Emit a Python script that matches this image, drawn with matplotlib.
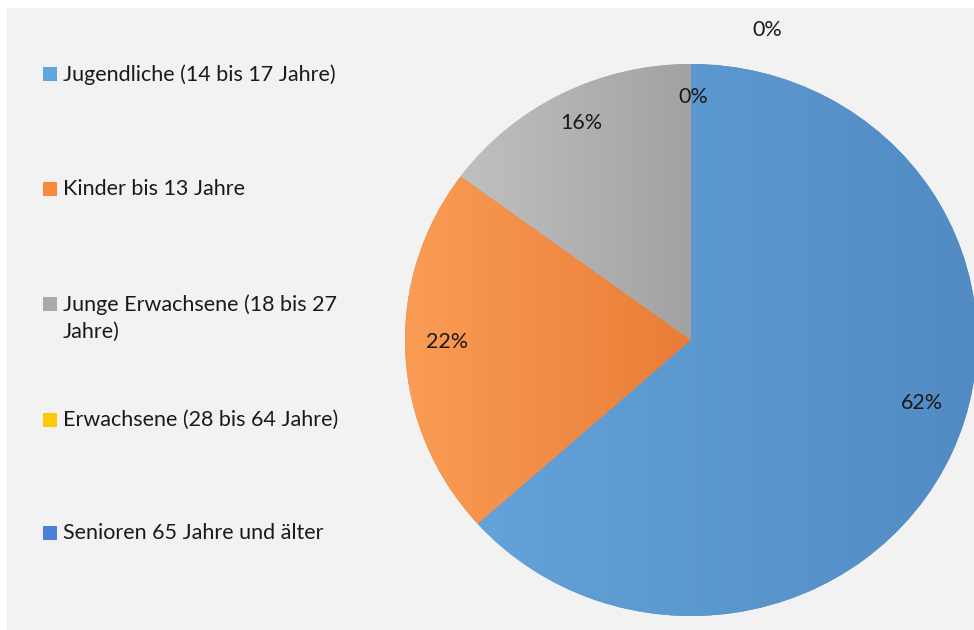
import matplotlib.pyplot as plt
import numpy as np
from matplotlib.colors import LinearSegmentedColormap
from matplotlib.patches import Rectangle

plt.rcParams['font.family'] = ['Lato', 'DejaVu Sans']

# data
groups = ['Jugendliche (14 bis 17 Jahre)', 'Kinder bis 13 Jahre',
          'Junge Erwachsene (18 bis 27\nJahre)', 'Erwachsene (28 bis 64 Jahre)',
          'Senioren 65 Jahre und älter']
# slice sizes as drawn in the original (its labels are rounded differently)
shares = [63.4, 21.7, 14.9, 0, 0]
pct_labels = ['62%', '22%', '16%', '0%', '0%']

# slice gradients (light -> dark, left to right), legend swatch colours
grad_colors = [('#64a2da', '#528bc3'), ('#fa9c55', '#e97d37'),
               ('#c0c0c0', '#a2a2a2'), ('#ffc000', '#ffc000'), ('#4472c4', '#4472c4')]
swatch_colors = ['#60a7e2', '#f98a3d', '#a9a9a9', '#ffc905', '#4b7fd8']
# where each percentage label sits (in pie radius units)
label_pos = [(0.808, -0.228), (-0.854, -0.007), (-0.383, 0.786), (0.007, 0.880), (0.268, 1.125)]

W, H = 974, 630
fig = plt.figure(figsize=(W / 100, H / 100), dpi=100, facecolor='white')
fig.patches.append(Rectangle((7 / W, 0), 1, (H - 8) / H, transform=fig.transFigure,
                             facecolor='#f2f2f2', edgecolor='none', zorder=-5))

ax = fig.add_axes([0, 0, 1, 1])
ax.set_zorder(1)
ax.patch.set_alpha(0)
cx, cy, rx, ry = 691, 340, 286, 276
wedges, _ = ax.pie(shares, startangle=90, counterclock=False,
                   colors=[c[1] for c in grad_colors],
                   wedgeprops=dict(linewidth=0))

for w, (c0, c1), v in zip(wedges, grad_colors, shares):
    if v == 0:
        continue
    ext = w.get_path().get_extents()
    cmap = LinearSegmentedColormap.from_list('g', [c0, c1])
    grad = np.linspace(0, 1, 256).reshape(1, -1)
    im = ax.imshow(grad, cmap=cmap, aspect='auto', zorder=2,
                   extent=[ext.x0, ext.x1, ext.y0, ext.y1])
    im.set_clip_path(w)
ax.set_aspect('auto')
ax.set_xlim(-cx / rx, (W - cx) / rx)
ax.set_ylim(-(H - cy) / ry, cy / ry)
ax.axis('off')

for txt, (x, y) in zip(pct_labels, label_pos):
    ax.text(x, y, txt, ha='center', va='center', fontsize=15.5, color='#1a1a1a', zorder=5)

# legend drawn by hand, swatch aligned to first text line
legend_y = [74, 189, 304, 420, 533]
for lab, col, py in zip(groups, swatch_colors, legend_y):
    fig.patches.append(Rectangle((43 / W, 1 - (py + 7) / H), 14 / W, 14 / H,
                                 transform=fig.transFigure, facecolor=col,
                                 edgecolor='none', zorder=3))
    fig.text(63 / W, 1 - (py - 10) / H, lab, ha='left', va='top', fontsize=15.5,
             color='#1a1a1a', linespacing=1.45)

fig.savefig('out.png', dpi=100, facecolor=fig.get_facecolor())
